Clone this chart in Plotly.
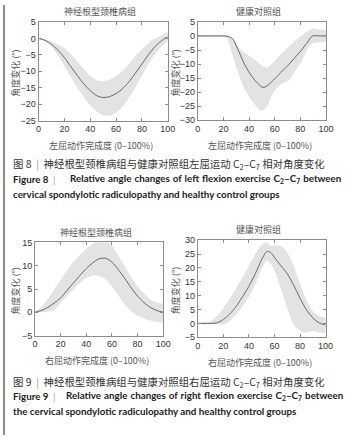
import plotly.graph_objects as go

W, H = 353, 440

# ---------------- data ----------------
# Figure 8, left flexion, CSR group
x1 = [0, 5, 10, 15, 20, 25, 30, 35, 40, 45, 50, 55, 60, 65, 70, 75, 80, 85, 90, 95, 100]
m1 = [0, -0.6, -1.8, -3.6, -5.8, -8.6, -11.3, -13.8, -15.9, -17.4, -18.0, -17.7, -16.8, -15.3, -13.2, -10.6, -7.8, -5.0, -2.6, -0.8, 0.5]
u1 = [0, -0.3, -1.0, -1.9, -3.0, -4.8, -7.0, -9.3, -11.4, -12.7, -13.0, -12.5, -11.4, -9.9, -7.8, -5.4, -3.3, -1.5, 0.0, 0.9, 1.8]
l1 = [0, -1.0, -2.5, -5.2, -8.4, -11.7, -14.9, -17.8, -20.3, -22.3, -23.4, -23.5, -22.6, -20.8, -18.0, -14.9, -11.4, -7.9, -4.8, -2.5, -0.8]

# Figure 8, left flexion, healthy group
x2 = [0, 10, 20, 23, 27, 31, 36, 41, 46, 49, 51, 54, 57, 61, 66, 71, 76, 81, 86, 89.5, 95, 100]
m2 = [0, 0, 0, -0.1, -0.9, -4.4, -9.6, -13.6, -16.5, -17.8, -18.3, -17.8, -16.6, -14.8, -12.4, -10.2, -7.6, -5.0, -2.0, 0, 0, 0]
u2 = [0.3, 0.3, 0.3, 0.2, -0.9, -3.6, -5.8, -7.3, -9.0, -10.2, -10.9, -11.3, -10.2, -8.4, -6.0, -3.8, -1.7, 0.2, 1.8, 2.6, 2.3, 2.0]
l2 = [-0.3, -0.3, -0.3, -1.0, -6.7, -12.5, -18.3, -22.3, -25.2, -26.6, -26.3, -25.2, -21.7, -18.8, -16.8, -15.8, -12.5, -9.0, -4.4, -2.6, -2.2, -2.0]

# Figure 9, right flexion, CSR group
x3 = [0, 5, 10, 15, 20, 25, 30, 35, 40, 45, 50, 55, 60, 65, 70, 75, 80, 85, 90, 95, 100]
m3 = [0, 0.4, 1.05, 2.0, 3.1, 4.7, 6.3, 7.9, 9.4, 10.6, 11.5, 11.6, 10.8, 9.2, 7.3, 5.3, 3.5, 2.1, 1.05, 0.4, 0]
u3 = [0, 1.2, 2.8, 4.9, 7.0, 9.0, 10.8, 12.3, 13.6, 14.7, 15.4, 15.5, 14.3, 12.2, 9.8, 7.6, 5.6, 4.1, 2.8, 2.1, 1.7]
l3 = [0, 0.0, 0.1, 0.5, 2.1, 3.5, 4.9, 6.2, 7.3, 7.9, 7.8, 7.1, 5.6, 3.6, 1.7, 0.3, -0.7, -1.3, -1.75, -2.0, -2.1]

# Figure 9, right flexion, healthy group
x4 = [0, 5, 10, 15, 20, 25, 30, 35, 40, 45, 50, 54, 57, 60, 65, 70, 75, 80, 85, 90, 95, 100]
m4 = [0, 0, 0, 0.2, 1.4, 3.4, 6.1, 9.6, 13.4, 17.9, 23.0, 25.9, 25.6, 23.8, 20.8, 17.9, 13.8, 9.1, 4.9, 2.0, 0.2, -0.6]
u4 = [0.3, 0.4, 0.8, 2.6, 5.5, 9.0, 12.6, 16.7, 20.8, 25.0, 28.5, 29.3, 28.0, 28.1, 27.9, 25.5, 20.8, 14.4, 8.5, 4.4, 2.6, 2.0]
l4 = [-0.3, -0.3, -0.3, -0.3, -0.4, 0.8, 3.2, 6.1, 9.6, 14.0, 19.6, 22.6, 21.5, 19.0, 12.6, 5.5, -0.4, -2.7, -3.3, -2.7, -3.3, -3.3]

panel_titles = ["神经根型颈椎病组", "健康对照组", "神经根型颈椎病组", "健康对照组"]
x_labels = ["左屈动作完成度 (0–100%)", "左屈动作完成度 (0–100%)",
            "右屈动作完成度 (0–100%)", "右屈动作完成度 (0–100%)"]
y_label = "角度变化 (°)"
y_ranges = [[-25, 5], [-30, 5], [-5, 15], [-5, 30]]
y_ticks = [[5, 0, -5, -10, -15, -20, -25],
           [5, 0, -5, -10, -15, -20, -25, -30],
           [15, 10, 5, 0, -5],
           [30, 25, 20, 15, 10, 5, 0, -5]]
x_ticks = [0, 20, 40, 60, 80, 100]

series = [(x1, m1, u1, l1), (x2, m2, u2, l2), (x3, m3, u3, l3), (x4, m4, u4, l4)]

# ---------------- layout geometry (pixels) ----------------
boxes = [  # left, right, top, bottom
    (36.7, 170.0, 17.3, 118.3),
    (201.0, 333.3, 17.3, 118.0),
    (33.0, 165.3, 243.0, 338.3),
    (201.0, 333.0, 240.7, 340.0),
]

def px(x):
    return x / W

def py(y):
    return 1 - y / H

CJK = "Noto Sans CJK SC"
TICKF = "Liberation Sans"
FRAME = "#8c8c8c"
LABEL_C = "#555555"

fig = go.Figure()
layout = dict(
    width=W, height=H, margin=dict(l=0, r=0, t=0, b=0),
    paper_bgcolor="white", plot_bgcolor="white", showlegend=False,
)

annotations = []
for i, (xs, ms, us, ls) in enumerate(series):
    k = "" if i == 0 else str(i + 1)
    xa, ya = "x" + k, "y" + k
    fig.add_trace(go.Scatter(
        x=list(xs) + list(xs)[::-1], y=list(us) + list(ls)[::-1],
        fill="toself", fillcolor="#e3e3e3", line=dict(width=0, shape="spline", smoothing=0.8),
        mode="lines", hoverinfo="skip", xaxis=xa, yaxis=ya))
    fig.add_trace(go.Scatter(
        x=xs, y=ms, mode="lines", line=dict(color="#666666", width=1, shape="spline", smoothing=0.8),
        xaxis=xa, yaxis=ya))
    L, R, T, B = boxes[i]
    axis_common = dict(showline=True, linecolor=FRAME, linewidth=1, mirror="allticks",
                       ticks="inside", ticklen=3, tickcolor=FRAME, showgrid=False, zeroline=False,
                       tickfont=dict(family=TICKF, size=9, color="#333333"))
    yt = y_ticks[i]
    layout["xaxis" + k] = dict(domain=[px(L), px(R)], range=[0, 100], tickvals=x_ticks,
                               anchor=ya, **axis_common)
    layout["yaxis" + k] = dict(domain=[py(B), py(T)], range=y_ranges[i], tickvals=yt,
                               ticktext=[str(v).replace("-", "−") for v in yt],
                               anchor=xa, **axis_common)
    annotations.append(dict(text=panel_titles[i], x=px((L + R) / 2 - 3), y=py(T - 10.5),
                            xref="paper", yref="paper", showarrow=False,
                            font=dict(family=CJK, size=9, color=LABEL_C),
                            xanchor="center", yanchor="middle"))
    annotations.append(dict(text=x_labels[i], x=px((L + R) / 2 - 2), y=py(B + 25.5),
                            xref="paper", yref="paper", showarrow=False,
                            font=dict(family=CJK, size=9, color=LABEL_C),
                            xanchor="center", yanchor="middle"))
    ylx = 13 if i in (0, 2) else 178
    annotations.append(dict(text=y_label, x=px(ylx), y=py((T + B) / 2 + 2), xref="paper", yref="paper",
                            showarrow=False, textangle=-90, font=dict(family=CJK, size=9, color=LABEL_C),
                            xanchor="center", yanchor="middle"))

CAP_C = "#333333"
EN_C = "#222222"
SEP_C = "#9a9a9a"
GAP = " \u200a"  # word gap widened slightly (justified line)

def cap(x, y, txt, fam, sz, color, anchor="left"):
    annotations.append(dict(text=txt, x=px(x), y=py(y), xref="paper", yref="paper", showarrow=False,
                            xanchor=anchor, yanchor="middle", font=dict(family=fam, size=sz, color=color)))

sub = "C<sub>2</sub>–C<sub>7</sub>"
for yy, n, side in [(163, "8", "左屈"), (386, "9", "右屈")]:
    cap(8, yy, f"图 {n}  <span style='color:{SEP_C}'>|</span>  神经根型颈椎病组与健康对照组{side}运动 {sub} 相对角度变化",
        CJK, 10.4, CAP_C)

en1 = [(178, "8", 67, "left"), (400, "9", 63, "right")]
for yy, n, x0, side in en1:
    cap(8, yy, f"<b>Figure {n}</b>", "Lato", 9.8, EN_C)
    cap(53, yy, "|", "Lato", 9.8, SEP_C, anchor="center")
    words = ["Relative", "angle", "changes", "of", side, "flexion", "exercise", sub, "between"]
    cap(x0, yy, "<b>" + GAP.join(words) + "</b>", "Lato", 9.8, EN_C)
cap(8, 193, "<b>cervical spondylotic radiculopathy and healthy control groups</b>", "Lato", 9.8, EN_C)
cap(8, 415, "<b>the cervical spondylotic radiculopathy and healthy control groups</b>", "Lato", 9.8, EN_C)

layout["annotations"] = annotations
layout["shapes"] = [dict(type="line", xref="paper", yref="paper", x0=px(1), x1=px(1), y0=0, y1=1,
                         line=dict(color="#8a8a8a", width=2))]
fig.update_layout(**layout)
fig.write_html("out.html", config={"displayModeBar": False},
               post_script="document.body.style.margin='0';document.body.style.overflow='hidden';")
